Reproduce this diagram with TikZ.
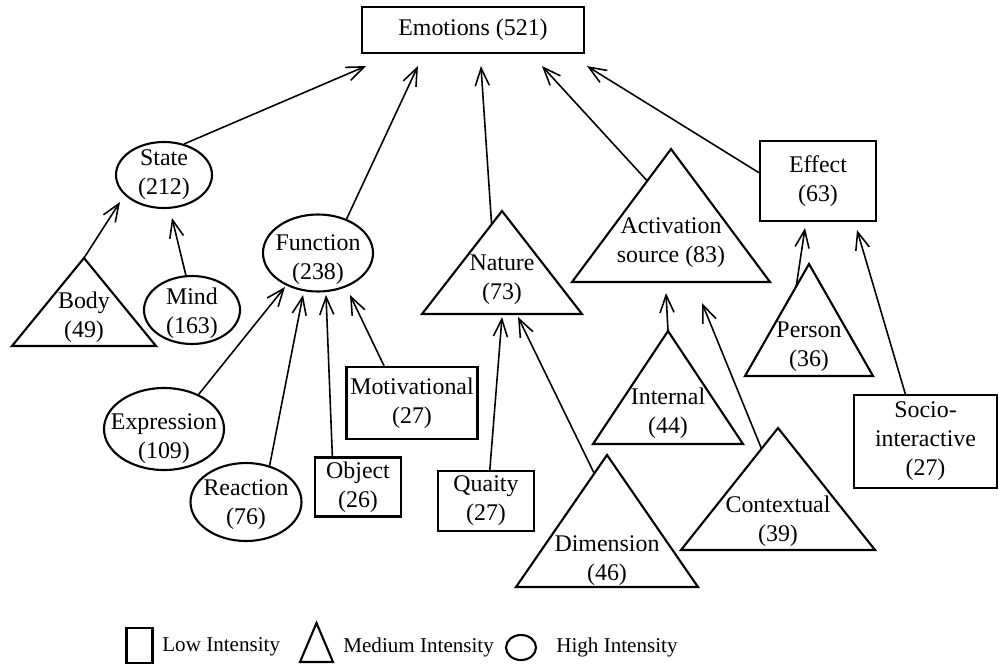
\documentclass[tikz,border=0pt]{standalone}
\usepackage{fontspec}
\setmainfont{Liberation Serif}
\usetikzlibrary{shapes.geometric,arrows.meta,calc}
\tikzset{x=0.02cm,y=-0.02cm,
         dims/.style 2 args={minimum width=#1*0.02cm,minimum height=#2*0.02cm},
         low/.style={draw,rectangle,line width=1.2pt,inner sep=0pt,align=center},
         high/.style={draw,ellipse,line width=1.2pt,inner sep=0pt},
         medium/.style={draw,line width=1.2pt,line join=miter},
         txt/.style={align=center,inner sep=0pt},
         legendtxt/.style={anchor=west,inner sep=0pt,font=\fontsize{12}{14}\selectfont},
         arr/.style={-{Straight Barb[length=10pt,width=8pt]},line width=0.9pt}}
% name, apex x, apex y, half base, base y, text y, text
\newcommand\trinode[7]{%
  \coordinate (#1-t) at (#2,#3);
  \coordinate (#1-l) at ({#2-#4},#5);
  \coordinate (#1-r) at ({#2+#4},#5);
  \draw[medium] (#1-t) -- (#1-l) -- (#1-r) -- cycle;
  \node[txt] (#1) at (#2,#6) {#7};}

\begin{document}
\begin{tikzpicture}[font=\fontsize{13.6}{16.5}\selectfont]
\useasboundingbox (0,0) rectangle (999,666);
\node[low,dims={222}{46}] (emo) at (473,30) {Emotions (521)};
% state
\node[high,dims={96}{66}] (state) at (164,175) {};
\node[txt] (state-t) at (state) {State\\(212)};
\trinode{body}{84}{258}{72}{346}{317}{Body\\(49)}
\node[high,dims={96}{68}] (mind) at (192,310) {};
\node[txt] (mind-t) at (192,313) {Mind\\(163)};
% function
\node[high,dims={110}{77}] (func) at (318,253) {};
\node[txt] (func-t) at (318,260) {Function\\(238)};
\node[high,dims={120}{82}] (expr) at (164,429) {};
\node[txt] (expr-t) at (164,439) {Expression\\(109)};
\node[high,dims={111}{78}] (react) at (246,502) {};
\node[txt] (react-t) at (246,505) {Reaction\\(76)};
\node[low,dims={86}{59}] (obj) at (358,487) {Object\\(26)};
\node[low,dims={131}{72}] (motiv) at (412,403) {Motivational\\(27)};
% nature
\trinode{nat}{502}{211}{80}{314}{280}{Nature\\(73)}
\node[low,dims={96}{60}] (qual) at (486,501) {Quaity\\(27)};
\trinode{dim}{607}{455}{91}{587}{561}{Dimension\\(46)}
% activation source
\trinode{act}{671}{149}{99}{282}{243}{Activation\\source (83)}
\trinode{int}{668}{331}{75}{444}{413}{Internal\\(44)}
\trinode{ctx}{778}{428}{97}{550}{521}{Contextual\\(39)}
% effect
\node[low,dims={116}{80}] (eff) at (818,181) {Effect\\(63)};
\trinode{pers}{809}{264}{64}{376}{347}{Person\\(36)}
\node[low,dims={143}{93}] (socio) at (925.5,441.5) {Socio-\\interactive\\(27)};

% arrows to the root
\draw[arr] (state.57) -- ([shift={(5,12)}]emo.south west);
\draw[arr] (func.50) -- ([shift={(57,12)}]emo.south west);
\draw[arr] ($(nat-t)!0.13!(nat-l)$) -- ([shift={(120,12)}]emo.south west);
\draw[arr] ($(act-t)!0.24!(act-l)$) -- ([shift={(181,12)}]emo.south west);
\draw[arr] (eff.172) -- ([shift={(226,12)}]emo.south west);
% second level
\draw[arr] (body-t) -- ([shift={(-44,27)}]state.center);
\draw[arr] (mind.100) -- ([shift={(8,43)}]state.center);
\draw[arr] (expr.45) -- ([shift={(-33,34)}]func.center);
\draw[arr] (react.57) -- ([shift={(-15,42)}]func.center);
\draw[arr] (obj.130) -- ([shift={(8,42)}]func.center);
\draw[arr] (motiv.127) -- ([shift={(32,42)}]func.center);
\draw[arr] (qual.83) -- ([shift={(0,37)}]nat.center);
\draw[arr] ($(dim-t)!0.14!(dim-l)$) -- ([shift={(16,37)}]nat.center);
\draw[arr] (int-t) -- ([shift={(-5,50)}]act.center);
\draw[arr] ($(ctx-t)!0.17!(ctx-l)$) -- ([shift={(31,60)}]act.center);
\draw[arr] ($(pers-t)!0.2!(pers-l)$) -- ([shift={(-13,47)}]eff.center);
\draw[arr] (socio.113) -- ([shift={(39,49)}]eff.center);

% legend
\node[low,dims={26}{35}] (lg-low) at (139.5,645.5) {};
\node[legendtxt] (lg-low-t) at (162,647) {Low Intensity};
\trinode{lg-med}{316.5}{623}{16.5}{662}{645}{}
\node[legendtxt] (lg-med-t) at (343,647) {Medium Intensity};
\node[high,dims={30}{25}] (lg-high) at (521,647.5) {};
\node[legendtxt] (lg-high-t) at (556,647) {High Intensity};
\end{tikzpicture}
\end{document}
